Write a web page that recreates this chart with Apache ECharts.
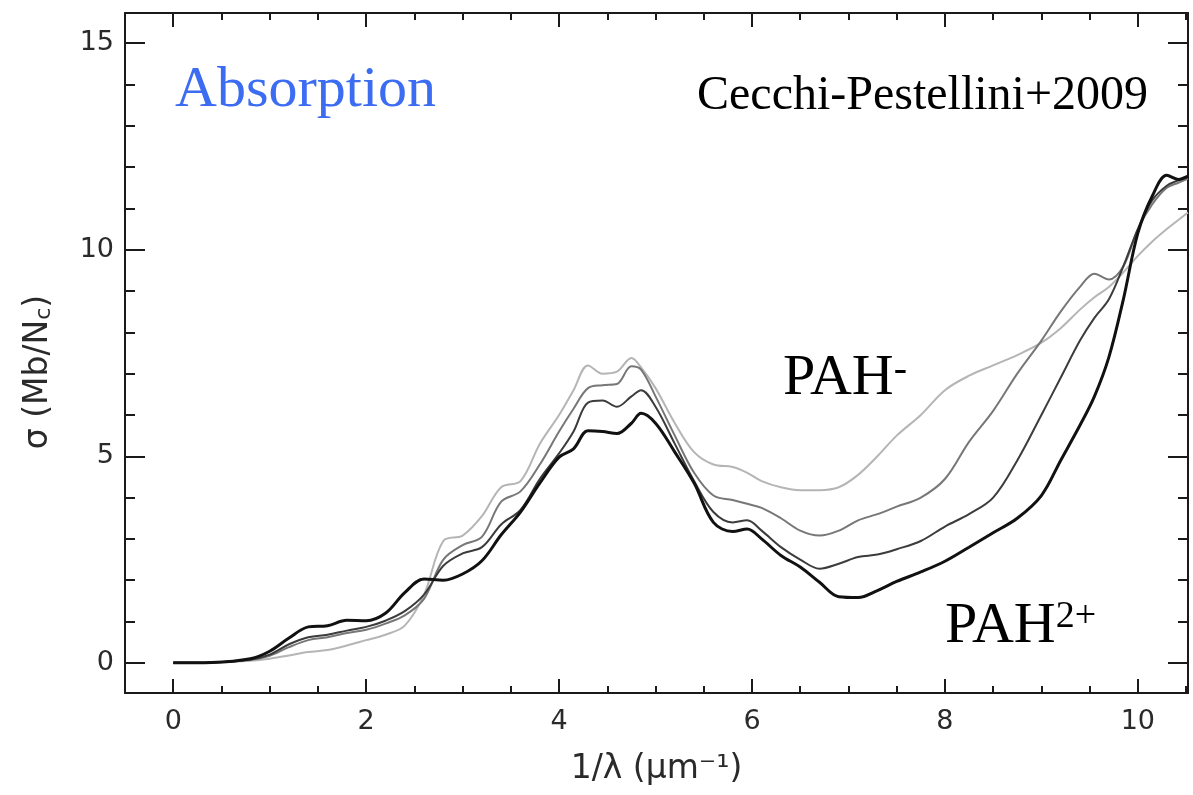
<!DOCTYPE html>
<html>
<head>
<meta charset="utf-8">
<script src="https://cdn.jsdelivr.net/npm/echarts@6/dist/echarts.min.js"></script>
<style>html,body{margin:0;padding:0;background:#fff}#c{width:1193px;height:795px}</style>
</head>
<body>
<div id="c"></div>
<script>
// wavenumber 1/lambda (um^-1)
const xs = [0, 0.4, 0.8, 1.0, 1.2, 1.4, 1.6, 1.8, 2.0, 2.2, 2.4, 2.6, 2.8, 3.0, 3.2, 3.4, 3.6, 3.8, 4.0, 4.15, 4.3, 4.45, 4.6, 4.75, 4.85, 5.0, 5.2, 5.4, 5.6, 5.8, 5.95, 6.1, 6.3, 6.5, 6.7, 6.9, 7.1, 7.3, 7.5, 7.75, 8.0, 8.25, 8.5, 8.75, 9.0, 9.2, 9.4, 9.55, 9.7, 9.85, 10.0, 10.15, 10.3, 10.42, 10.52];
// PAH2+ (black, thick)
const pah2plus = [0, 0.01, 0.1, 0.28, 0.6, 0.87, 0.9, 1.03, 1.02, 1.2, 1.7, 2.03, 2.0, 2.15, 2.47, 3.1, 3.65, 4.35, 4.98, 5.18, 5.62, 5.6, 5.55, 5.8, 6.04, 5.8, 5.1, 4.35, 3.4, 3.18, 3.24, 3.0, 2.6, 2.32, 1.95, 1.6, 1.58, 1.75, 1.97, 2.2, 2.46, 2.8, 3.15, 3.5, 4.05, 4.9, 5.75, 6.45, 7.4, 8.8, 10.4, 11.3, 11.8, 11.7, 11.78];
// PAH+ (dark grey)
const pahplus = [0, 0.01, 0.08, 0.2, 0.45, 0.62, 0.68, 0.78, 0.87, 1.02, 1.25, 1.65, 2.35, 2.65, 2.8, 3.35, 3.7, 4.45, 5.07, 5.6, 6.3, 6.35, 6.2, 6.45, 6.6, 6.2, 5.3, 4.4, 3.65, 3.4, 3.45, 3.2, 2.8, 2.5, 2.28, 2.4, 2.56, 2.62, 2.75, 2.95, 3.3, 3.6, 4.0, 4.9, 6.0, 6.9, 7.8, 8.35, 8.8, 9.6, 10.5, 11.2, 11.55, 11.68, 11.76];
// PAH neutral (mid grey)
const pah0 = [0, 0.01, 0.07, 0.17, 0.38, 0.55, 0.62, 0.72, 0.8, 0.95, 1.15, 1.55, 2.5, 2.85, 3.05, 3.9, 4.15, 4.8, 5.6, 6.15, 6.65, 6.72, 6.75, 7.18, 7.1, 6.45, 5.5, 4.6, 4.05, 3.94, 3.85, 3.75, 3.5, 3.2, 3.08, 3.2, 3.45, 3.6, 3.78, 4.0, 4.45, 5.35, 6.1, 7.0, 7.8, 8.5, 9.1, 9.42, 9.28, 9.6, 10.5, 11.1, 11.5, 11.62, 11.72];
// PAH- (light grey)
const pahminus = [0, 0.01, 0.05, 0.1, 0.18, 0.26, 0.31, 0.42, 0.55, 0.68, 0.9, 1.65, 2.95, 3.08, 3.55, 4.25, 4.4, 5.3, 6.0, 6.6, 7.2, 7.0, 7.05, 7.38, 7.15, 6.65, 5.8, 5.1, 4.8, 4.74, 4.6, 4.4, 4.25, 4.18, 4.18, 4.25, 4.55, 5.0, 5.5, 6.0, 6.6, 6.95, 7.2, 7.45, 7.75, 8.1, 8.55, 8.85, 9.1, 9.45, 9.85, 10.2, 10.5, 10.72, 10.9];

const xMajor = [0, 2, 4, 6, 8, 10];
const xMinor = [0.5, 1, 1.5, 2.5, 3, 3.5, 4.5, 5, 5.5, 6.5, 7, 7.5, 8.5, 9, 9.5, 10.5];
const yMajor = [0, 5, 10, 15];
const yMinor = [1, 2, 3, 4, 6, 7, 8, 9, 11, 12, 13, 14];

const X_MIN = -0.5, X_MAX = 10.52, Y_MIN = -0.73, Y_MAX = 15.73;
const AX = '#1a1a1a';
const labelFont = {color: '#2a2a2a', fontSize: 27, fontFamily: 'DejaVu Sans'};

function xAxisDef(pos, ticks, len, withLine, withLabel) {
  return {
    type: 'value', position: pos, min: X_MIN, max: X_MAX,
    axisLine: {show: withLine, onZero: false, lineStyle: {color: AX, width: 2}},
    axisTick: {show: true, inside: true, length: len, customValues: ticks, lineStyle: {color: AX, width: 2}},
    axisLabel: withLabel ? Object.assign({show: true, margin: 15, customValues: xMajor}, labelFont) : {show: false},
    splitLine: {show: false}
  };
}
function yAxisDef(pos, ticks, len, withLine, withLabel) {
  return {
    type: 'value', position: pos, min: Y_MIN, max: Y_MAX,
    axisLine: {show: withLine, onZero: false, lineStyle: {color: AX, width: 2}},
    axisTick: {show: true, inside: true, length: len, customValues: ticks, lineStyle: {color: AX, width: 2}},
    axisLabel: withLabel ? Object.assign({show: true, margin: 11, customValues: yMajor}, labelFont) : {show: false},
    splitLine: {show: false}
  };
}

const xAxes = [
  xAxisDef('bottom', xMajor, 14, true, true),
  xAxisDef('bottom', xMinor, 7, false, false),
  xAxisDef('top', xMajor, 14, true, false),
  xAxisDef('top', xMinor, 7, false, false)
];
xAxes[0].name = '1/λ (μm⁻¹)';
xAxes[0].nameLocation = 'middle';
xAxes[0].nameGap = 60;
xAxes[0].nameTextStyle = {color: '#2a2a2a', fontSize: 33, fontFamily: 'DejaVu Sans'};

const yAxes = [
  yAxisDef('left', yMajor, 20, true, true),
  yAxisDef('left', yMinor, 10, false, false),
  yAxisDef('right', yMajor, 20, true, false),
  yAxisDef('right', yMinor, 10, false, false)
];
yAxes[0].name = 'σ (Mb/N{sub|c})';
yAxes[0].nameLocation = 'middle';
yAxes[0].nameGap = 70;
yAxes[0].nameTextStyle = {color: '#2a2a2a', fontSize: 33, fontFamily: 'DejaVu Sans', padding: [0, 38, 0, 0],
  rich: {sub: {fontSize: 22, fontFamily: 'DejaVu Sans', color: '#2a2a2a', verticalAlign: 'bottom', padding: [12, 0, 0, 0]}}};

function mk(name, arr, color, width) {
  return {name: name, type: 'line', xAxisIndex: 0, yAxisIndex: 0, showSymbol: false, smooth: 0.35,
    clip: true, data: xs.map((x, i) => [x, arr[i]]),
    lineStyle: {color: color, width: width}, itemStyle: {color: color}, z: 3};
}

const chart = echarts.init(document.getElementById('c'), null, {renderer: 'canvas'});
chart.setOption({
  animation: false,
  backgroundColor: '#ffffff',
  grid: {left: 125, right: 5, top: 13, bottom: 102, containLabel: false},
  xAxis: xAxes,
  yAxis: yAxes,
  series: [
    mk('PAH-', pahminus, '#b5b5b5', 2),
    mk('PAH', pah0, '#777777', 2),
    mk('PAH+', pahplus, '#3c3c3c', 2),
    mk('PAH2+', pah2plus, '#111111', 3)
  ],
  graphic: [
    {type: 'text', left: 175, top: 62, style: {text: 'Absorption', fill: '#3b6cf2', fontSize: 58, fontFamily: 'Liberation Serif'}},
    {type: 'text', left: 697, top: 72, style: {text: 'Cecchi-Pestellini+2009', fill: '#000', fontSize: 48, fontFamily: 'Liberation Serif'}},
    {type: 'text', left: 783, top: 350, style: {text: '{m|PAH}{s|-}', rich: {m: {fontSize: 58, fontFamily: 'Liberation Serif', fill: '#000'}, s: {fontSize: 40, fontFamily: 'Liberation Serif', fill: '#000', verticalAlign: 'top'}}}},
    {type: 'text', left: 945, top: 598, style: {text: '{m|PAH}{s|2+}', rich: {m: {fontSize: 58, fontFamily: 'Liberation Serif', fill: '#000'}, s: {fontSize: 38, fontFamily: 'Liberation Serif', fill: '#000', verticalAlign: 'top'}}}}
  ]
});
</script>
</body>
</html>
